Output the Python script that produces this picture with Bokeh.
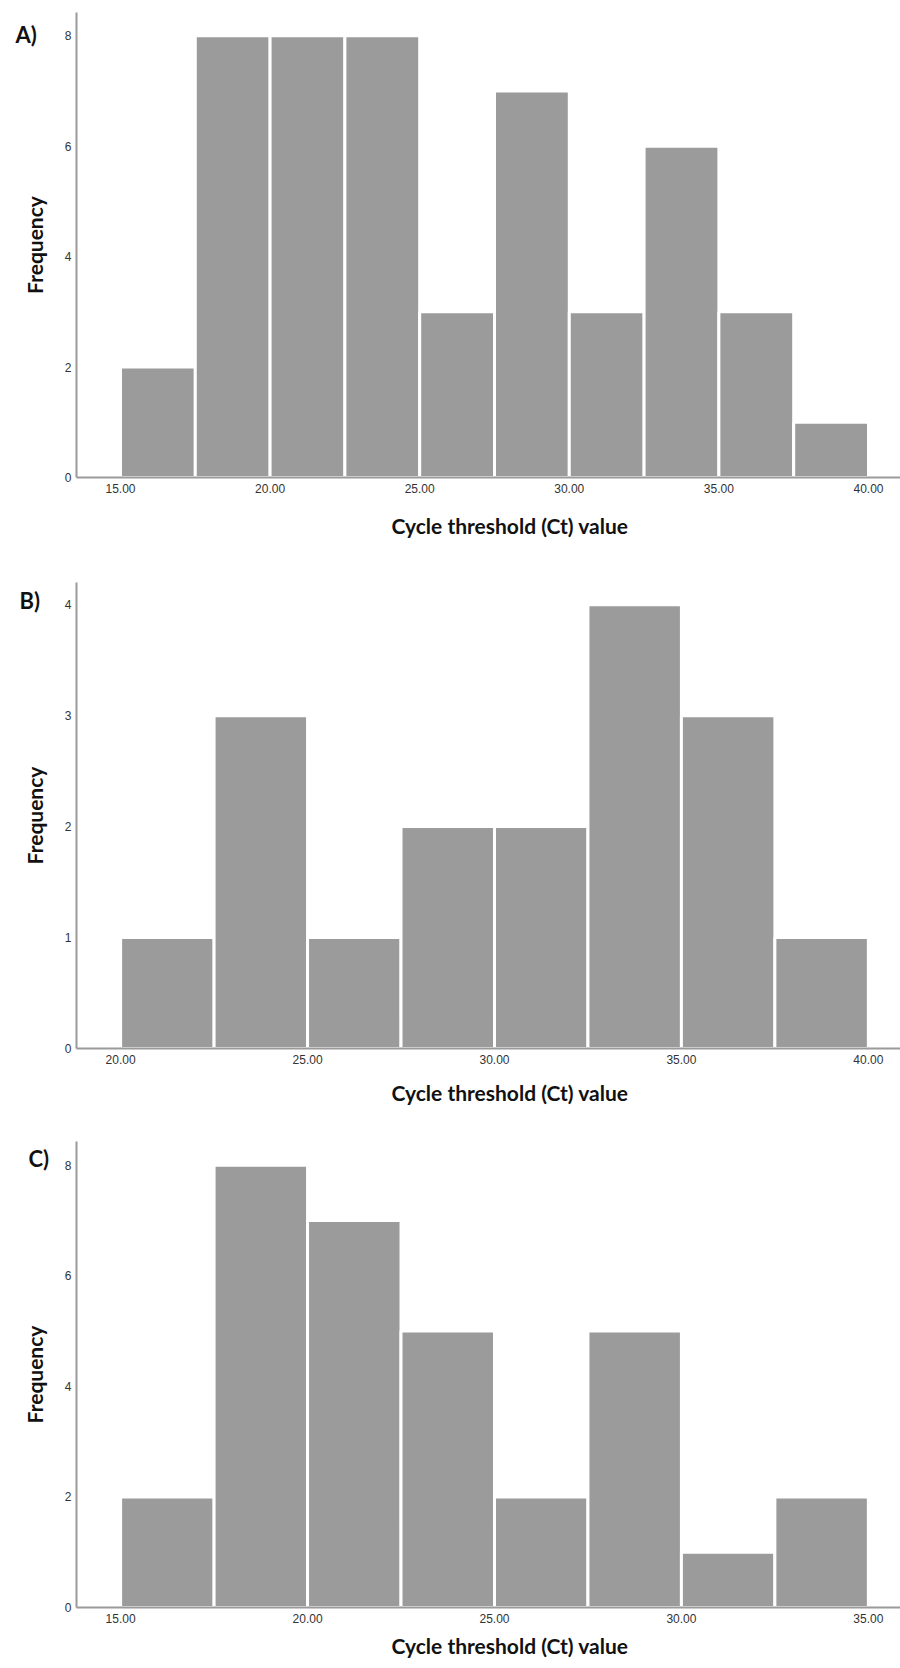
import math
from bokeh.plotting import figure
from bokeh.layouts import column, row
from bokeh.models import Range1d, Title, FixedTicker, PrintfTickFormatter, ColumnDataSource
from bokeh.core.properties import value
from bokeh.embed import file_html
from bokeh.resources import INLINE

# Panel A
a_bins = [15.0, 17.5, 20.0, 22.5, 25.0, 27.5, 30.0, 32.5, 35.0, 37.5, 40.0]
a_counts = [2, 8, 8, 8, 3, 7, 3, 6, 3, 1]
a_xticks = [15, 20, 25, 30, 35, 40]
a_yticks = [0, 2, 4, 6, 8]

# Panel B
b_bins = [20.0, 22.5, 25.0, 27.5, 30.0, 32.5, 35.0, 37.5, 40.0]
b_counts = [1, 3, 1, 2, 2, 4, 3, 1]
b_xticks = [20, 25, 30, 35, 40]
b_yticks = [0, 1, 2, 3, 4]

# Panel C
c_bins = [15.0, 17.5, 20.0, 22.5, 25.0, 27.5, 30.0, 32.5, 35.0]
c_counts = [2, 8, 7, 5, 2, 5, 1, 2]
c_xticks = [15, 20, 25, 30, 35]
c_yticks = [0, 2, 4, 6, 8]

x_title = "Cycle threshold (Ct) value"
y_title = "Frequency"

BAR = "#9b9b9b"
AXIS = "#9a9a9a"
TXT = "#111111"
TITLE_FONT = "Lato"
STRIP_W = 61


def make_strip(letter, height, border_top, border_bottom, letter_xy, freq_y):
    # frames of figures in a row are aligned, so map y to canvas pixels
    s = figure(width=STRIP_W, height=height, output_backend="svg",
               toolbar_location=None, x_axis_type=None, y_axis_type=None,
               x_range=Range1d(0, STRIP_W),
               y_range=Range1d(height - border_bottom, border_top),
               min_border=0)
    s.outline_line_color = None
    s.xgrid.visible = False
    s.ygrid.visible = False
    s.text(x=[letter_xy[0]], y=[letter_xy[1]], text=[letter],
           text_font=value(TITLE_FONT), text_font_style="bold",
           text_font_size="22px", text_color=TXT,
           text_baseline="middle", text_align="left")
    s.text(x=[33.5], y=[freq_y], text=[y_title], angle=math.pi / 2,
           text_font=value(TITLE_FONT), text_font_style="bold",
           text_font_size="21px", text_color=TXT,
           text_baseline="middle", text_align="center")
    return s


def make_panel(bins, counts, xticks, yticks, xr, yr, height,
               border_top, border_bottom, title_standoff):
    p = figure(width=900 - STRIP_W, height=height, output_backend="svg",
               toolbar_location=None,
               x_range=Range1d(*xr), y_range=Range1d(*yr),
               min_border_left=15, min_border_right=0,
               min_border_top=border_top, min_border_bottom=border_bottom)
    src = ColumnDataSource(dict(left=bins[:-1], right=bins[1:], top=counts))
    p.quad(left="left", right="right", bottom=0, top="top", source=src,
           fill_color=BAR, line_color="white", line_width=3)
    p.outline_line_color = None
    p.xgrid.visible = False
    p.ygrid.visible = False

    p.xaxis.ticker = FixedTicker(ticks=xticks)
    p.xaxis.formatter = PrintfTickFormatter(format="%.2f")
    p.yaxis.ticker = FixedTicker(ticks=yticks)
    for ax in (p.xaxis, p.yaxis):
        ax.axis_line_color = AXIS
        ax.axis_line_width = 2
        ax.major_tick_line_color = None
        ax.minor_tick_line_color = None
        ax.major_tick_out = 0
        ax.major_tick_in = 0
        ax.major_label_text_font = "Liberation Sans"
        ax.major_label_text_font_size = "12px"
        ax.major_label_text_color = "#333333"
    p.xaxis.major_label_standoff = 6
    p.yaxis.major_label_standoff = 5

    t = Title(text=x_title, align="right", offset=272, standoff=title_standoff,
              text_font=TITLE_FONT, text_font_style="bold",
              text_font_size="21px", text_color=TXT)
    p.add_layout(t, "below")
    return p


pa = make_panel(a_bins, a_counts, a_xticks, a_yticks,
                (13.53, 41.07), (0, 8.42), 568, 12, 91, 30)
pb = make_panel(b_bins, b_counts, b_xticks, b_yticks,
                (18.82, 40.86), (0, 4.2), 552, 14, 72, 22)
pc = make_panel(c_bins, c_counts, c_xticks, c_yticks,
                (13.82, 35.86), (0, 8.43), 548, 21, 61, 11)

sa = make_strip("A)", 568, 12, 91, (15, 33.5), 244.5)
sb = make_strip("B)", 552, 14, 72, (19, 32), 247)
sc = make_strip("C)", 548, 21, 61, (28, 38), 254)

layout = column(row(sa, pa, spacing=0), row(sb, pb, spacing=0),
                row(sc, pc, spacing=0), spacing=0)
open("out.html", "w").write(file_html(layout, INLINE))
